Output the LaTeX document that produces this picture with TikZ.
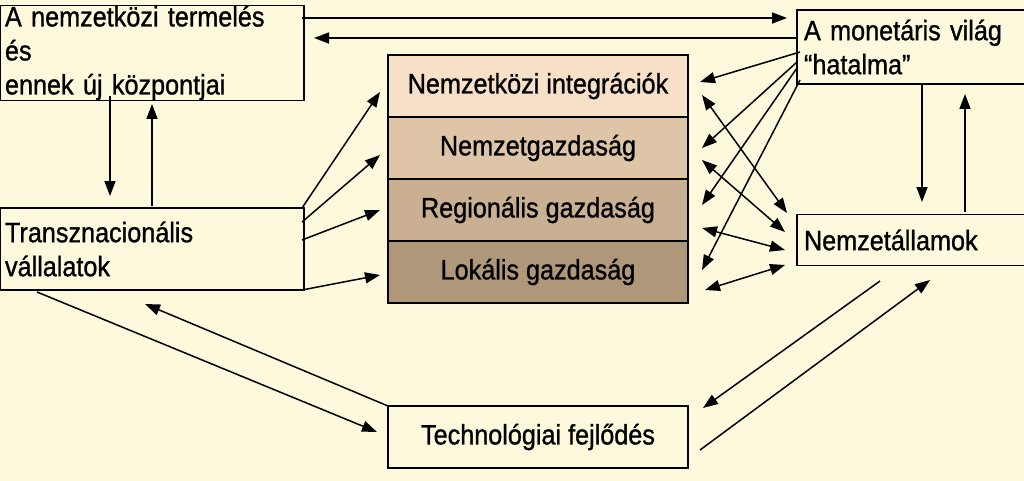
\documentclass[tikz,border=0pt]{standalone}
\usepackage{fontspec}
\setmainfont[FakeStretch=0.9,FakeBold=1]{Liberation Sans}
\usetikzlibrary{arrows.meta}
\definecolor{bg}{HTML}{FCF9DC}
\begin{document}
\begin{tikzpicture}[x=1pt,y=-1pt,
  box/.style={draw,line width=1.3pt,fill=bg,inner sep=0pt,font=\fontsize{28}{34}\selectfont},
  lay/.style={draw,line width=1.3pt,minimum width=300,minimum height=62,inner sep=0pt,font=\fontsize{28}{34}\selectfont},
  ar/.style={line width=1.5pt,-{Triangle[length=15pt,width=11pt]}},
  dar/.style={line width=1.5pt,{Triangle[length=15pt,width=11pt]}-{Triangle[length=15pt,width=11pt]}}]
\fill[bg] (0,0) rectangle (1024,481);
\useasboundingbox (0,0) rectangle (1024,481);
\node[box,minimum width=304,minimum height=82,align=left,text width=294] (A) at (152,53) {A nemzetközi termelés és\\ennek új központjai};
\node[box,minimum width=230,minimum height=74,align=left,text width=216] (M) at (912,47) {A monetáris világ\\“hatalma”};
\node[box,minimum width=304,minimum height=82,align=left,text width=294] (T) at (152,249) {Transznacionális\\vállalatok};
\node[box,minimum width=230,minimum height=51,align=left,text width=216] (N) at (912,240) {Nemzetállamok};
\node[box,minimum width=300,minimum height=62] (Te) at (538,437) {Technológiai fejlődés};
\node[lay,fill={rgb,255:red,246;green,224;blue,200}] (L1) at (538,86) {Nemzetközi integrációk};
\node[lay,fill={rgb,255:red,222;green,197;blue,167}] (L2) at (538,148) {Nemzetgazdaság};
\node[lay,fill={rgb,255:red,201;green,176;blue,146}] (L3) at (538,210) {Regionális gazdaság};
\node[lay,fill={rgb,255:red,175;green,151;blue,122}] (L4) at (538,272) {Lokális gazdaság};
% A <-> M
\draw[ar] (302,18) -- (787,18);
\draw[ar] (797,38) -- (314,38);
% A <-> T
\draw[ar] (110,96) -- (110,196);
\draw[ar] (152,206) -- (152,104);
% M <-> N
\draw[ar] (922,85) -- (922,202);
\draw[ar] (965,212) -- (965,94);
% T -> layers
\draw[ar] (302,208) -- (380,92);
\draw[ar] (302,222) -- (380,155);
\draw[ar] (302,240) -- (380,210);
\draw[ar] (302,290) -- (380,275);
% M -> layers
\draw[ar] (800,52) -- (700,82);
\draw[ar] (797,62) -- (702,148);
\draw[ar] (797,68) -- (702,205);
\draw[ar] (800,80) -- (702,270);
% layers <-> N
\draw[dar] (702,95) -- (787,213);
\draw[dar] (702,160) -- (785,232);
\draw[dar] (702,228) -- (785,250);
\draw[dar] (705,290) -- (785,265);
% T <-> Tech
\draw[ar] (37,292) -- (377,432);
\draw[ar] (388,406) -- (145,304);
% Tech <-> N
\draw[ar] (880,281) -- (703,408);
\draw[ar] (700,450) -- (930,280);
\end{tikzpicture}
\end{document}
